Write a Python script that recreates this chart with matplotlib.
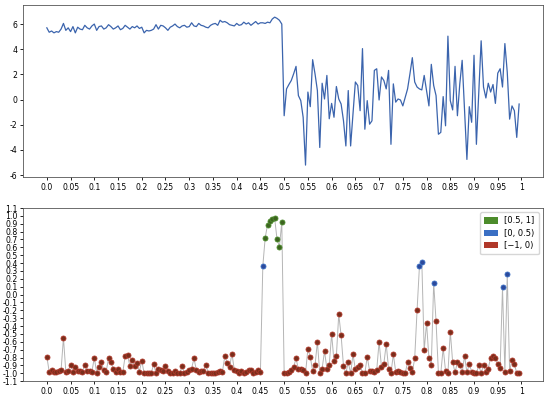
import numpy as np
import matplotlib
matplotlib.use("Agg")
from matplotlib import pyplot as plt
from matplotlib.patches import Patch

plt.rcParams["axes.unicode_minus"] = False

# signal, sampled every 0.005 from 0 to 0.995
signal_first = [5.7, 5.35, 5.45, 5.3, 5.4, 5.35, 5.6, 6.05, 5.5, 5.7,
                5.4, 5.8, 5.3, 5.75, 5.6, 5.55, 5.9, 5.7, 5.6, 5.85,
                6.0, 5.5, 5.8, 5.85, 5.6, 5.7, 5.95, 5.8, 5.6, 5.7,
                5.85, 5.55, 5.65, 5.9, 5.75, 5.6, 5.8, 5.7, 5.85, 5.65,
                5.75, 5.3, 5.5, 5.45, 5.5, 5.6, 5.95, 5.6, 5.9, 5.85,
                5.7, 5.5, 5.75, 5.85, 6.0, 5.8, 5.7, 5.85, 5.9, 5.75,
                5.8, 6.1, 5.85, 5.8, 6.05, 5.9, 5.85, 5.75, 5.7, 5.9,
                6.0, 6.05, 5.9, 6.3, 6.15, 6.2, 6.1, 5.95, 5.9, 5.85,
                6.05, 5.9, 5.95, 6.15, 6.0, 6.1, 5.9, 6.05, 6.2, 6.0,
                6.1, 6.1, 6.05, 6.15, 6.1, 6.4, 6.55, 6.45, 6.3, 6.0]
signal_second = [-1.28, 0.85, 1.2, 1.52, 2.05, 2.64, 0.32, -0.08, -1.4, -5.2,
                 0.6, -0.56, 3.17, 2.05, 0.72, -3.8, 1.3, 0.05, 1.92, -1.52,
                 -0.3, -1.4, 1.04, 0.05, -0.35, -1.68, -3.68, 0.72, -3.68, -1.12,
                 1.4, 1.12, -0.88, 4.05, -2.35, -0.08, -1.95, -1.68, 2.32, 2.45,
                 -0.03, 1.8, 1.52, 0.85, 2.32, -3.55, 1.25, -0.2, 0.05, -0.03,
                 -0.5, 0.19, 0.85, 2.05, 3.33, 1.4, 1.0, 0.85, 0.77, 1.92,
                 0.72, -0.5, 2.8, 1.12, 0.32, -2.75, -2.6, 0.24, -2.08, 5.04,
                 -0.08, -0.82, 2.64, -1.28, 1.25, 3.12, -0.88, -4.75, -0.56, -1.8,
                 3.52, -3.55, 0.6, 4.67, 1.0, 0.13, 1.3, 0.6, 1.2, -0.3,
                 2.1, 2.45, 1.0, 4.45, 2.18, -1.55, -0.5, -0.88, -3.0, -0.35]
signal = np.array(signal_first + signal_second)

# score in [-1, 1] at the same positions
score = np.array([
    -0.79, -0.98, -0.96, -0.98, -0.98, -0.97, -0.96, -0.55, -0.98, -0.97,
    -0.89, -0.98, -0.92, -0.97, -0.97, -0.98, -0.89, -0.97, -0.97, -0.98,
    -0.80, -1.0, -0.92, -0.86, -0.96, -0.98, -0.81, -0.86, -0.94, -0.98,
    -0.95, -0.98, -0.99, -0.78, -0.77, -0.91, -0.83, -0.91, -0.87, -0.98,
    -0.84, -1.0, -1.0, -1.0, -1.0, -0.88, -1.0, -0.94, -0.96, -0.97,
    -0.91, -0.97, -1.0, -1.0, -0.97, -1.0, -1.0, -0.91, -1.0, -0.99,
    -0.96, -0.94, -0.81, -0.96, -0.98, -0.97, -0.97, -0.89, -1.0, -1.0,
    -1.0, -1.0, -0.98, -0.97, -0.98, -0.78, -0.87, -0.92, -0.75, -0.96,
    -0.97, -1.0, -0.97, -1.0, -0.98, -0.96, -0.96, -1.0, -0.98, -0.96,
    -0.98, 0.36, 0.72, 0.89, 0.93, 0.96, 0.97, 0.70, 0.61, 0.92,
    -1.0, -1.0, -0.99, -0.96, -0.92, -0.81, -0.95, -0.95, -0.96, -1.0,
    -0.69, -0.79, -0.97, -0.90, -0.60, -1.0, -0.94, -0.72, -0.94, -0.89,
    -0.50, -0.85, -0.78, -0.25, -0.52, -0.91, -1.0, -0.86, -1.0, -0.76,
    -0.95, -0.92, -0.89, -1.0, -1.0, -0.79, -0.97, -0.97, -0.98, -0.96,
    -0.60, -0.92, -0.88, -0.63, -0.94, -1.0, -0.76, -0.98, -0.97, -0.98,
    -1.0, -1.0, -0.86, -0.93, -0.99, -0.81, -0.20, 0.36, 0.42, -0.71,
    -0.36, -0.81, -0.89, 0.15, -0.34, -1.0, -1.0, -0.68, -0.97, -1.0,
    -0.47, -0.86, -0.99, -0.86, -0.89, -0.99, -0.78, -0.99, -0.88, -0.98,
    -1.0, -1.0, -0.90, -1.0, -0.89, -0.99, -0.94, -0.80, -0.78, -0.80,
    -0.88, -0.93, 0.09, -0.98, 0.26, -0.97, -0.83, -0.88, -1.0, -1.0])

t = np.arange(len(signal)) * 0.005
tick_pos = np.arange(0, 21) * 0.05
tick_labels = ["0.0"] + ["%g" % round(v, 2) for v in tick_pos[1:]]

classes = [("[0.5, 1]", "#4c8c2b", "#3d6420", lambda s: s >= 0.5),
           ("[0, 0.5)", "#3a6fc4", "#2c4a9c", lambda s: (s >= 0) & (s < 0.5)),
           ("[\u22121, 0)", "#b0382a", "#7a2e1c", lambda s: s < 0)]

fig = plt.figure(figsize=(5.5, 3.97), dpi=100)
ax1 = fig.add_axes([0.042, 0.554, 0.945, 0.433])
ax2 = fig.add_axes([0.042, 0.040, 0.945, 0.436])

ax1.plot(t, signal, color="#3b64ad", lw=0.9)
ax1.set_xlim(-0.05, 1.045)
ax1.set_ylim(-6.15, 7.5)
ax1.set_yticks([-6, -4, -2, 0, 2, 4, 6])

ax2.plot(t, score, color="#b5b5b5", lw=0.7, zorder=1)
handles = []
for name, col, face, rule in classes:
    m = rule(score)
    ax2.plot(t[m], score[m], "o", ms=3.6, mfc=face, mec=col, mew=0.6, zorder=2)
    handles.append(Patch(facecolor=col, label=name))
ax2.set_xlim(-0.05, 1.045)
ax2.set_ylim(-1.1, 1.1)
ax2.set_yticks(np.round(np.arange(-11, 12) * 0.1, 1))
ax2.legend(handles=handles, loc="upper right", fontsize=6, handlelength=1.6,
           handleheight=0.8, borderpad=0.5, labelspacing=0.4)

for ax in (ax1, ax2):
    ax.set_xticks(tick_pos)
    ax.set_xticklabels(tick_labels)
    ax.tick_params(labelsize=5.6, length=2.5, width=0.6, pad=1.5)
    for s in ax.spines.values():
        s.set_linewidth(0.6)
        s.set_color("#555555")

fig.savefig("out.png", dpi=100)
